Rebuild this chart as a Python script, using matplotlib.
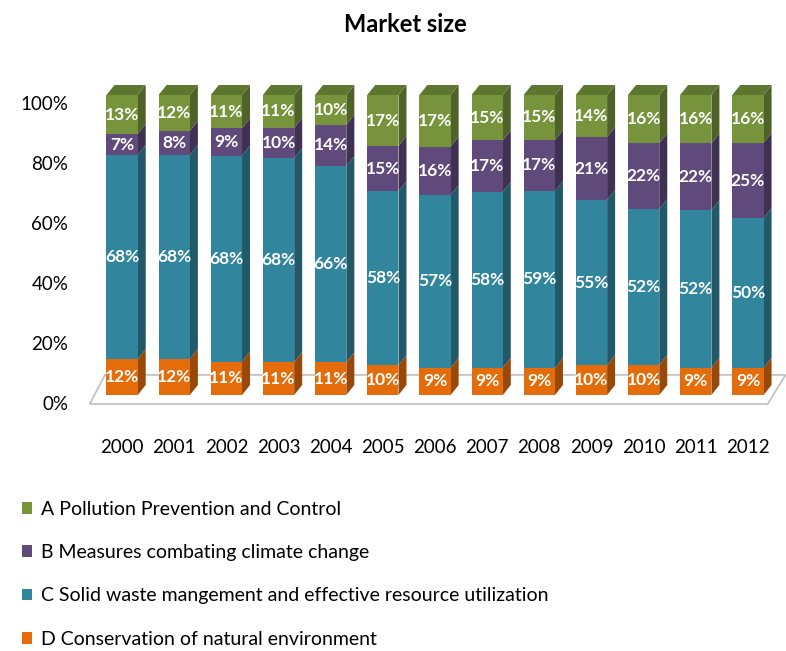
import matplotlib
matplotlib.use("Agg")
import matplotlib.pyplot as plt
import matplotlib.transforms as mtransforms
from matplotlib.patches import Polygon
import numpy as np

plt.rcParams['font.family'] = ['Lato', 'DejaVu Sans']

years = ['2000', '2001', '2002', '2003', '2004', '2005', '2006',
         '2007', '2008', '2009', '2010', '2011', '2012']
D_vals = [12, 12, 11, 11, 11, 10, 9, 9, 9, 10, 10, 9, 9]
C_vals = [68, 68, 68, 68, 66, 58, 57, 58, 59, 55, 52, 52, 50]
B_vals = [7, 8, 9, 10, 14, 15, 16, 17, 17, 21, 22, 22, 25]
A_vals = [13, 12, 11, 11, 10, 17, 17, 15, 15, 14, 16, 16, 16]
series_names = ['D Conservation of natural environment',
                'C Solid waste mangement and effective resource utilization',
                'B Measures combating climate change',
                'A Pollution Prevention and Control']
yticks = [0, 20, 40, 60, 80, 100]
ytick_labels = ['0%', '20%', '40%', '60%', '80%', '100%']

front_colors = ['#E46C0A', '#31859C', '#604A7B', '#77933C']
side_colors = ['#984807', '#215968', '#3F3151', '#4F6228']
top_colors = ['#B85A08', '#27707F', '#4E3D66', '#5E7730']

W, H = 786, 651
fig = plt.figure(figsize=(W / 100, H / 100), dpi=100)
ax_left, ax_right = 96, 774
ax_top, ax_bot = 95, 395
ax = fig.add_axes([ax_left / W, 1 - ax_bot / H, (ax_right - ax_left) / W, (ax_bot - ax_top) / H])
ax.set_xlim(-0.5, 12.5)
ax.set_ylim(0, 100)
for s in ax.spines.values():
    s.set_visible(False)

x = np.arange(len(years))
data = np.array([D_vals, C_vals, B_vals, A_vals], dtype=float)
data = data / data.sum(axis=0) * 100.0
width = 0.6
px_x = (ax_right - ax_left) / 13.0
px_y = (ax_bot - ax_top) / 100.0
dx = 8 / px_x
dy = 10 / px_y

# floor
floor = Polygon([(-0.62, -3.0), (12.38, -3.0), (12.72, 6.7), (-0.33, 6.7)],
                closed=True, facecolor='#ffffff', edgecolor='#bfbfbf', lw=1.2,
                clip_on=False, zorder=1)
ax.add_patch(floor)

bottoms = np.zeros(len(years))
handles = []
for k in range(4):
    vals = data[k]
    bc = ax.bar(x, vals, width=width, bottom=bottoms, color=front_colors[k],
                edgecolor='none', zorder=3, label=series_names[k])
    handles.append(bc)
    for i in range(len(years)):
        b = bottoms[i]
        t = b + vals[i]
        xr = x[i] + width / 2
        side = Polygon([(xr, b), (xr + dx, b + dy), (xr + dx, t + dy), (xr, t)],
                       closed=True, facecolor=side_colors[k], edgecolor='none',
                       zorder=2.5, clip_on=False)
        ax.add_patch(side)
        if k == 3:
            xl = x[i] - width / 2
            top = Polygon([(xl, t), (xl + dx, t + dy), (xr + dx, t + dy), (xr, t)],
                          closed=True, facecolor=top_colors[k], edgecolor='none',
                          zorder=2.5, clip_on=False)
            ax.add_patch(top)
        raw = [D_vals, C_vals, B_vals, A_vals][k][i]
        ax.text(x[i], b + vals[i] / 2, f'{raw}%', ha='center', va='center',
                color='white', fontsize=12.5, fontweight='bold', zorder=5)
    bottoms = bottoms + vals

ax.set_xticks(x)
ax.set_xticklabels(years, fontsize=13.5, color='#000000')
ax.set_yticks(yticks)
ax.set_yticklabels(ytick_labels, fontsize=13.5, color='#000000')
ax.tick_params(axis='both', length=0)
ax.tick_params(axis='x', pad=32)
ax.tick_params(axis='y', pad=20)
off = mtransforms.ScaledTranslation(0, -8 / 100, fig.dpi_scale_trans)
for lab in ax.get_yticklabels():
    lab.set_transform(lab.get_transform() + off)

fig.text(405 / W, 1 - 25 / H, 'Market size', ha='center', va='center',
         fontsize=17, fontweight='bold')

leg = fig.legend(handles[::-1], series_names[::-1], loc='upper left',
                 bbox_to_anchor=(14 / W, 1 - 493 / H), frameon=False,
                 fontsize=14, handlelength=0.55, handleheight=0.55,
                 handletextpad=0.45, labelspacing=1.35, borderaxespad=0)

fig.savefig('out.png', dpi=100)
